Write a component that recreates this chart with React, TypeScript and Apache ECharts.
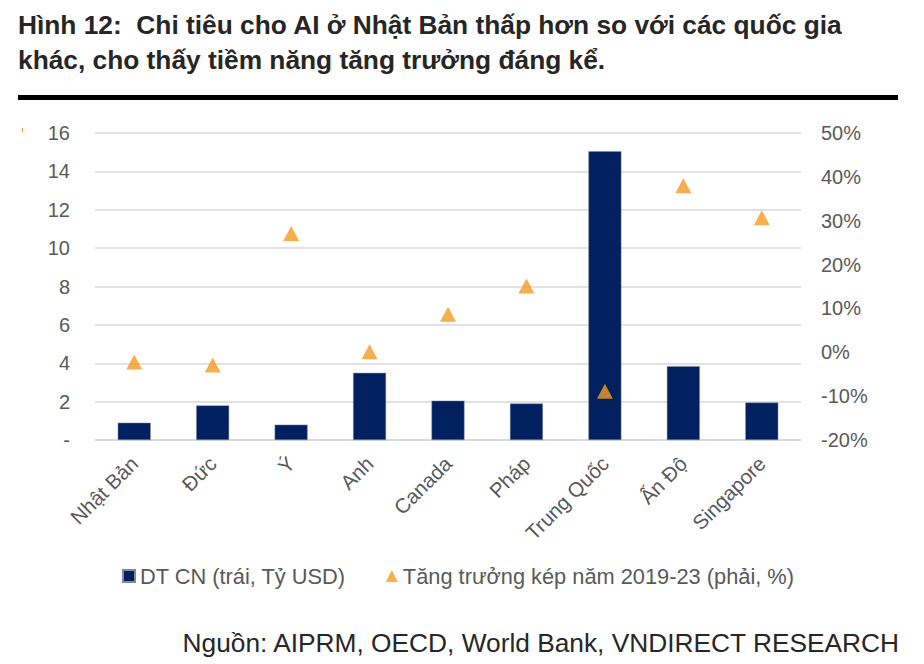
import React, { useEffect, useRef } from "react";
import * as echarts from "echarts";

const categories = ["Nhật Bản", "Đức", "Ý", "Anh", "Canada", "Pháp", "Trung Quốc", "Ấn Độ", "Singapore"];
const revenue = [0.9, 1.8, 0.8, 3.5, 2.05, 1.9, 15.05, 3.85, 1.95];
const cagr = [-2.2, -2.9, 27.1, 0.1, 8.7, 15.1, -8.9, 38.0, 30.7];
const leftTicks = { min: 0, max: 16, interval: 2 };
const rightTicks = { min: -20, max: 50, interval: 10 };
const barName = "DT CN (trái, Tỷ USD)";
const triName = "Tăng trưởng kép năm 2019-23 (phải, %)";
const titleText = "Hình 12:  Chi tiêu cho AI ở Nhật Bản thấp hơn so với các quốc gia\nkhác, cho thấy tiềm năng tăng trưởng đáng kể.";
const sourceText = "Nguồn: AIPRM, OECD, World Bank, VNDIRECT RESEARCH";

const FONT = "'Liberation Sans', Arial, sans-serif";
const GRAY = "#595959";

export default function App() {
  const ref = useRef<HTMLDivElement>(null);
  useEffect(() => {
    if (!ref.current) return;
    const chart = echarts.init(ref.current, null, { renderer: "svg" });
    chart.setOption({
      animation: false,
      backgroundColor: "#ffffff",
      textStyle: { fontFamily: FONT },
      title: {
        text: titleText,
        left: 10,
        top: -1,
        padding: 0,
        textStyle: { fontFamily: FONT, fontSize: 26.3, fontWeight: "bold", color: "#262626", lineHeight: 35 },
      },
      graphic: [
        { type: "rect", left: 10, top: 87, shape: { width: 880, height: 5 }, style: { fill: "#000" } },
        { type: "rect", left: 14, top: 120, shape: { width: 1, height: 4 }, style: { fill: "#F59A23" } },
        {
          type: "text",
          right: 15,
          top: 622,
          style: { text: sourceText, font: `26.3px ${FONT}`, fill: "#262626" },
        },
      ],
      legend: {
        left: 114,
        top: 557,
        padding: 0,
        itemGap: 40,
        itemWidth: 12,
        itemHeight: 12,
        textStyle: { fontFamily: FONT, fontSize: 21.8, color: GRAY },
        data: [
          { name: barName, icon: "rect" },
          { name: triName, icon: "triangle" },
        ],
      },
      grid: { left: 87, right: 115, top: 125, bottom: 224 },
      xAxis: {
        type: "category",
        data: categories,
        axisLine: { show: true, lineStyle: { color: "#D9D9D9", width: 1.5 } },
        axisTick: { show: false },
        axisLabel: {
          rotate: 45,
          margin: 20,
          fontSize: 20.5,
          color: GRAY,
          fontFamily: FONT,
          interval: 0,
        },
      },
      yAxis: [
        {
          type: "value",
          ...leftTicks,
          axisLine: { show: false },
          axisTick: { show: false },
          splitLine: { lineStyle: { color: "#D9D9D9", width: 1.5 } },
          axisLabel: {
            margin: 25,
            fontSize: 20,
            color: GRAY,
            fontFamily: FONT,
            formatter: (v: number) => (v === 0 ? "-" : String(v)),
          },
        },
        {
          type: "value",
          ...rightTicks,
          axisLine: { show: false },
          axisTick: { show: false },
          splitLine: { show: false },
          axisLabel: {
            margin: 20,
            fontSize: 20,
            color: GRAY,
            fontFamily: FONT,
            formatter: (v: number) => `${v}%`,
          },
        },
      ],
      series: [
        {
          name: barName,
          type: "bar",
          data: revenue,
          barWidth: "42%",
          itemStyle: { color: "#002060", borderColor: "#7f8c9f", borderWidth: 0.5 },
        },
        {
          name: triName,
          type: "scatter",
          yAxisIndex: 1,
          symbol: "triangle",
          symbolSize: [16, 15],
          data: cagr,
          itemStyle: { color: "#F59A23" },
        },
      ],
    });
    return () => chart.dispose();
  }, []);
  return <div ref={ref} style={{ width: 908, height: 656 }} />;
}
